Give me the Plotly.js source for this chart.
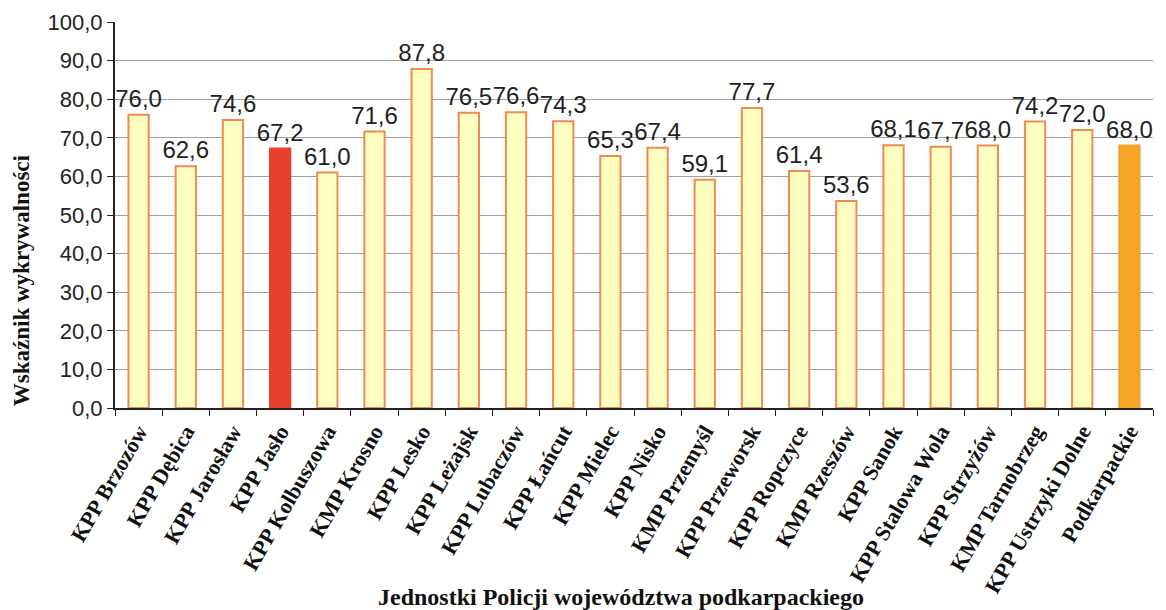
<!DOCTYPE html>
<html>
<head>
<meta charset="utf-8">
<script src="https://cdn.plot.ly/plotly-3.0.1.min.js"></script>
<style>html,body{margin:0;padding:0;background:#fff;}#chart{width:1166px;height:610px;}</style>
</head>
<body>
<div id="chart"></div>
<script>
const categories = ["KPP Brzozów","KPP Dębica","KPP Jarosław","KPP Jasło","KPP Kolbuszowa","KMP Krosno","KPP Lesko","KPP Leżajsk","KPP Lubaczów","KPP Łańcut","KPP Mielec","KPP Nisko","KMP Przemyśl","KPP Przeworsk","KPP Ropczyce","KMP Rzeszów","KPP Sanok","KPP Stalowa Wola","KPP Strzyżów","KMP Tarnobrzeg","KPP Ustrzyki Dolne","Podkarpackie"];
const values = [76.0,62.6,74.6,67.2,61.0,71.6,87.8,76.5,76.6,74.3,65.3,67.4,59.1,77.7,61.4,53.6,68.1,67.7,68.0,74.2,72.0,68.0];
const yTicks = [0,10,20,30,40,50,60,70,80,90,100];
const xTitle = 'Jednostki Policji województwa podkarpackiego';
const yTitle = 'Wskaźnik wykrywalności';

const fill = categories.map(c => c === "KPP Jasło" ? "#E8402C" : (c === "Podkarpackie" ? "#F5A623" : "#FFFFC2"));
const line = categories.map(c => c === "KPP Jasło" ? "#E8402C" : (c === "Podkarpackie" ? "#F0A030" : "#F08A50"));
const labels = values.map(v => v.toFixed(1).replace('.', ','));

const serif = 'Liberation Serif, Times New Roman, serif';
const sans = 'Liberation Sans, Arial, sans-serif';

const trace = {
  type: 'bar',
  x: categories,
  y: values,
  text: labels,
  textposition: 'outside',
  constraintext: 'none',
  cliponaxis: false,
  textfont: {family: sans, size: 24, color: '#222'},
  marker: {color: fill, line: {color: line, width: 2}},
  hoverinfo: 'x+y'
};

const layout = {
  width: 1166, height: 610,
  margin: {l: 115, r: 13, t: 22, b: 202},
  paper_bgcolor: '#fff', plot_bgcolor: '#fff',
  bargap: 0.57,
  showlegend: false,
  xaxis: {
    type: 'category',
    automargin: false,
    tickangle: -60,
    tickfont: {family: serif, size: 22, color: '#111', weight: 'bold'},
    showline: true, linecolor: '#222', linewidth: 2,
    ticks: 'outside', tickson: 'boundaries', ticklen: 6, tickcolor: '#222',
    showgrid: false
  },
  yaxis: {
    range: [0, 100],
    automargin: false,
    tickvals: yTicks,
    ticktext: yTicks.map(v => v.toFixed(1).replace('.', ',')),
    tickfont: {family: sans, size: 22, color: '#222'},
    showline: true, linecolor: '#222', linewidth: 2,
    ticks: 'outside', ticklen: 6, tickcolor: '#222',
    showgrid: true, gridcolor: '#a0a0a0', gridwidth: 1,
    zeroline: false
  },
  annotations: [
    {text: '<b>' + xTitle + '</b>', xref: 'paper', yref: 'paper', x: 0.487, y: -0.49, xanchor: 'center', yanchor: 'middle', showarrow: false, font: {family: serif, size: 24, color: '#111'}},
    {text: '<b>' + yTitle + '</b>', xref: 'paper', yref: 'paper', x: -0.09, y: 0.33, xanchor: 'center', yanchor: 'middle', textangle: -90, showarrow: false, font: {family: serif, size: 23, color: '#111'}}
  ]
};

Plotly.newPlot('chart', [trace], layout, {displayModeBar: false, staticPlot: true});
</script>
</body>
</html>
